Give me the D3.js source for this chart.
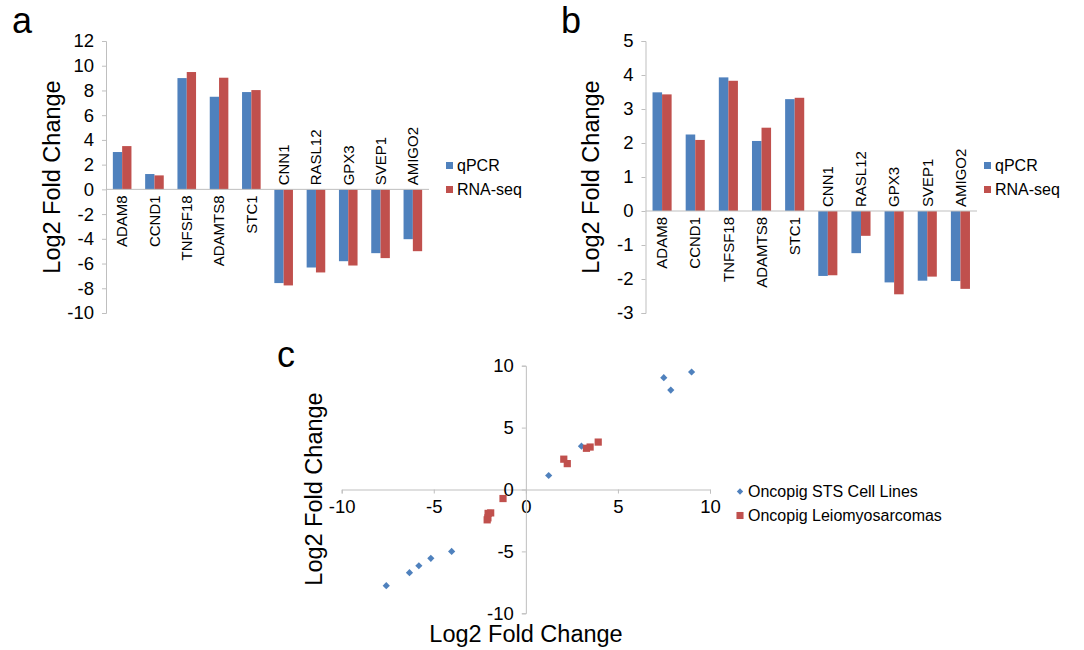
<!DOCTYPE html>
<html>
<head>
<meta charset="utf-8">
<script src="https://cdn.jsdelivr.net/npm/d3@7"></script>
<style>
  body { margin: 0; background: #fff; }
  svg text { font-family: Arial, "Liberation Sans", sans-serif; fill: #000; }
</style>
</head>
<body>
<div id="canvas"></div>
<script>
// genes, same order in a and b
var genes = ['ADAM8', 'CCND1', 'TNFSF18', 'ADAMTS8', 'STC1', 'CNN1', 'RASL12', 'GPX3', 'SVEP1', 'AMIGO2'];

// panel a: Oncopig STS cell lines
var qpcr_a = [3.02, 1.24, 9.0, 7.49, 7.87, -7.58, -6.32, -5.81, -5.16, -4.03];
var rnaseq_a = [3.5, 1.13, 9.49, 9.03, 8.03, -7.77, -6.72, -6.16, -5.56, -5.0];

// panel b: Oncopig leiomyosarcomas
var qpcr_b = [3.49, 2.25, 3.93, 2.06, 3.29, -1.91, -1.24, -2.10, -2.05, -2.06];
var rnaseq_b = [3.43, 2.09, 3.83, 2.45, 3.33, -1.89, -0.73, -2.45, -1.93, -2.29];

var series = ['qPCR', 'RNA-seq'];
var ticks_a = [12, 10, 8, 6, 4, 2, 0, -2, -4, -6, -8, -10];
var ticks_b = [5, 4, 3, 2, 1, 0, -1, -2, -3];
var ticks_c = [-10, -5, 0, 5, 10];
var scatter_names = ['Oncopig STS Cell Lines', 'Oncopig Leiomyosarcomas'];

var BLUE = '#4f81bd', RED = '#c0504d', GREY = '#bfbfbf';
var width = 1084, height = 650;

// plain hyphen for negatives, like the original
var fmt = function(d) { return String(d); };

var svg = d3.select('#canvas')
	.append('svg')
	.attr('width', width)
	.attr('height', height);

// ---------- bar panel helper ----------
function barPanel(opts) {
	var g = svg.append('g');

	var y = d3.scaleLinear().domain(opts.domain).range([opts.bottom, opts.top]);
	var x = d3.scaleBand().domain(genes).range([opts.left, opts.right])
		.paddingInner(0.424).paddingOuter(0.212);
	var xs = d3.scaleBand().domain(series).range([0, x.bandwidth()]);

	// y axis
	var yAxis = d3.axisLeft(y).tickValues(opts.ticks).tickSize(4).tickPadding(8)
		.tickFormat(fmt);
	var ya = g.append('g')
		.attr('transform', 'translate(' + opts.left + ',0)')
		.call(yAxis);
	ya.select('.domain').attr('stroke', GREY);
	ya.selectAll('.tick line').attr('stroke', GREY);
	ya.selectAll('.tick text').style('font-size', '18.5px').attr('fill', '#000');

	var rows = genes.map(function(d, i) {
		return {gene: d, vals: [opts.q[i], opts.r[i]]};
	});

	var grp = g.selectAll('.grp')
		.data(rows)
		.enter()
		.append('g')
		.attr('transform', function(d) { return 'translate(' + x(d.gene) + ',0)'; });

	grp.selectAll('rect')
		.data(function(d) { return d.vals.map(function(v, j) { return {s: series[j], v: v}; }); })
		.enter()
		.append('rect')
			.attr('x', function(d) { return xs(d.s); })
			.attr('width', xs.bandwidth())
			.attr('y', function(d) { return y(Math.max(0, d.v)); })
			.attr('height', function(d) { return Math.abs(y(d.v) - y(0)); })
			.attr('fill', function(d) { return d.s === 'qPCR' ? BLUE : RED; });

	// zero line
	g.append('line')
		.attr('x1', opts.left).attr('x2', opts.right)
		.attr('y1', y(0)).attr('y2', y(0))
		.attr('stroke', GREY);

	// category labels, rotated, placed on the side away from the bars
	g.selectAll('.cat')
		.data(rows)
		.enter()
		.append('text')
			.attr('transform', function(d) {
				var cx = x(d.gene) + x.bandwidth() / 2;
				var cy = d.vals[0] >= 0 ? y(0) + 6 : y(0) - 4;
				return 'translate(' + cx + ',' + cy + ') rotate(-90)';
			})
			.attr('dy', '0.35em')
			.attr('text-anchor', function(d) { return d.vals[0] >= 0 ? 'end' : 'start'; })
			.style('font-size', '15px')
			.text(function(d) { return d.gene; });

	// axis title
	g.append('text')
		.attr('transform', 'translate(' + opts.titleX + ',' + ((opts.top + opts.bottom) / 2) + ') rotate(-90)')
		.attr('text-anchor', 'middle')
		.style('font-size', '23.5px')
		.text('Log2 Fold Change');

	// legend
	var leg = g.selectAll('.leg')
		.data(series)
		.enter()
		.append('g')
		.attr('transform', function(d, i) { return 'translate(' + opts.legX + ',' + (162 + i * 24) + ')'; });
	leg.append('rect').attr('width', 7).attr('height', 7)
		.attr('fill', function(d) { return d === 'qPCR' ? BLUE : RED; });
	leg.append('text').attr('x', 11).attr('y', 9)
		.style('font-size', '16px')
		.text(function(d) { return d; });

	// panel letter
	g.append('text')
		.attr('x', opts.letterX).attr('y', 33)
		.style('font-size', '36px')
		.text(opts.letter);
}

barPanel({domain: [-10, 12], top: 41, bottom: 313, left: 106, right: 429,
	ticks: ticks_a, q: qpcr_a, r: rnaseq_a, titleX: 60, legX: 446, letter: 'a', letterX: 12});
barPanel({domain: [-3, 5], top: 41, bottom: 313, left: 645.5, right: 977,
	ticks: ticks_b, q: qpcr_b, r: rnaseq_b, titleX: 599, legX: 984, letter: 'b', letterX: 561});

// ---------- panel c: scatter ----------
var xc = d3.scaleLinear().domain([-10, 10]).range([341.7, 710]);
var yc = d3.scaleLinear().domain([-10, 10]).range([613.3, 365.7]);

var gc = svg.append('g');

var xAxisC = gc.append('g')
	.attr('transform', 'translate(0,' + yc(0) + ')')
	.call(d3.axisBottom(xc).tickValues(ticks_c).tickSize(4).tickPadding(6).tickFormat(fmt));
var yAxisC = gc.append('g')
	.attr('transform', 'translate(' + xc(0) + ',0)')
	.call(d3.axisLeft(yc).tickValues(ticks_c).tickSize(4).tickPadding(8).tickFormat(fmt));
[xAxisC, yAxisC].forEach(function(a) {
	a.select('.domain').attr('stroke', GREY);
	a.selectAll('.tick line').attr('stroke', GREY);
	a.selectAll('.tick text').style('font-size', '18.5px').attr('fill', '#000');
});

var sts_points = genes.map(function(d, i) { return {x: qpcr_a[i], y: rnaseq_a[i]}; });
var lms_points = genes.map(function(d, i) { return {x: qpcr_b[i], y: rnaseq_b[i]}; });

gc.selectAll('.sts')
	.data(sts_points)
	.enter()
	.append('path')
		.attr('d', d3.symbol(d3.symbolSquare, 26)())
		.attr('transform', function(d) { return 'translate(' + xc(d.x) + ',' + yc(d.y) + ') rotate(45)'; })
		.attr('fill', BLUE);

gc.selectAll('.lms')
	.data(lms_points)
	.enter()
	.append('path')
		.attr('d', d3.symbol(d3.symbolSquare, 52)())
		.attr('transform', function(d) { return 'translate(' + xc(d.x) + ',' + yc(d.y) + ')'; })
		.attr('fill', RED);

gc.append('text')
	.attr('transform', 'translate(322,489) rotate(-90)')
	.attr('text-anchor', 'middle')
	.style('font-size', '23.5px')
	.text('Log2 Fold Change');
gc.append('text')
	.attr('x', 526).attr('y', 642)
	.attr('text-anchor', 'middle')
	.style('font-size', '23.5px')
	.text('Log2 Fold Change');

var legc = gc.selectAll('.legc')
	.data(scatter_names)
	.enter()
	.append('g')
	.attr('transform', function(d, i) { return 'translate(740,' + (491.5 + i * 24) + ')'; });
legc.append('path')
	.attr('d', function(d, i) { return d3.symbol(d3.symbolSquare, i === 0 ? 20 : 50)(); })
	.attr('transform', function(d, i) { return i === 0 ? 'rotate(45)' : ''; })
	.attr('fill', function(d, i) { return i === 0 ? BLUE : RED; });
legc.append('text').attr('x', 8).attr('y', 5.5)
	.style('font-size', '16px')
	.text(function(d) { return d; });

gc.append('text')
	.attr('x', 277).attr('y', 367)
	.style('font-size', '36px')
	.text('c');
</script>
</body>
</html>
